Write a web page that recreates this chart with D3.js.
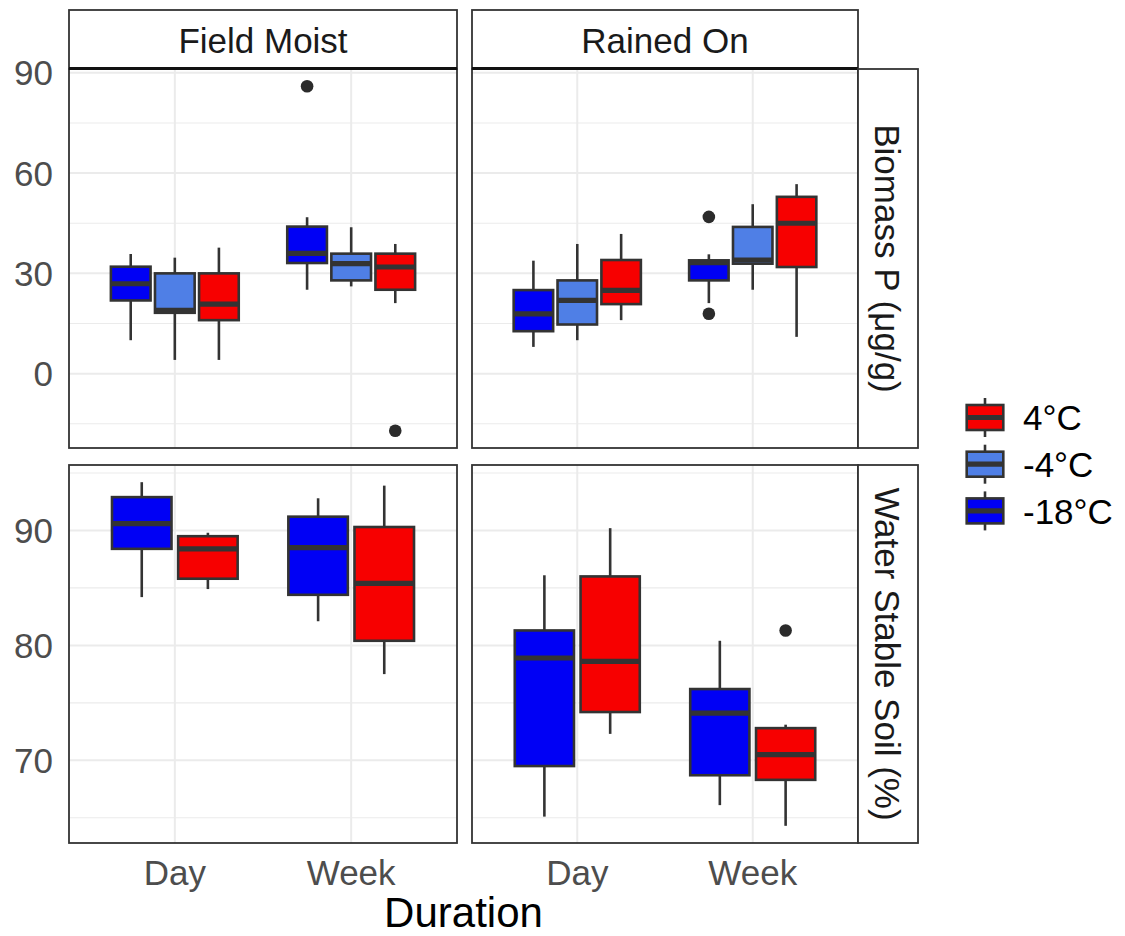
<!DOCTYPE html>
<html>
<head>
<meta charset="utf-8">
<script src="https://cdnjs.cloudflare.com/ajax/libs/d3/7.8.5/d3.min.js"></script>
<style>
  body { margin: 0; background: #fff; }
  text { font-family: "Liberation Sans", Arial, Helvetica, sans-serif; }
</style>
</head>
<body>
<div id="chart"></div>
<script>
// categories
var durations = ["Day", "Week"];
var temps = ["-18°C", "-4°C", "4°C"];
var tempColors = ["#0000F5", "#4F7FE6", "#F70000"];
var conditions = ["Field Moist", "Rained On"];
var measures = ["Biomass P (μg/g)", "Water Stable Soil (%)"];

// tick labels
var biomassTicks = [0, 30, 60, 90];
var biomassMinor = [-15, 15, 45, 75];
var soilTicks = [70, 80, 90];
var soilMinor = [65, 75, 85, 95];

// box stats: [duration, temp, ymin, lower, middle, upper, ymax]
var biomassFieldMoist = [
  ["Day", "-18°C", 10.0, 21.9, 26.9, 32.0, 35.8],
  ["Day", "-4°C", 4.1, 18.2, 18.9, 30.0, 34.7],
  ["Day", "4°C", 4.1, 16.0, 20.8, 30.0, 37.7],
  ["Week", "-18°C", 25.1, 33.1, 36.0, 44.0, 46.8],
  ["Week", "-4°C", 26.1, 27.9, 32.9, 35.9, 43.8],
  ["Week", "4°C", 21.1, 25.1, 31.9, 35.9, 38.8]
];
var biomassRainedOn = [
  ["Day", "-18°C", 8.0, 12.7, 17.9, 25.0, 33.8],
  ["Day", "-4°C", 10.0, 14.7, 21.9, 27.9, 38.8],
  ["Day", "4°C", 16.0, 20.8, 24.9, 34.0, 41.8],
  ["Week", "-18°C", 21.1, 27.9, 33.2, 33.9, 35.7],
  ["Week", "-4°C", 25.1, 32.9, 34.0, 43.9, 50.7],
  ["Week", "4°C", 11.0, 31.9, 45.0, 52.9, 56.7]
];
var soilFieldMoist = [
  ["Day", "-18°C", 84.2, 88.4, 90.6, 92.9, 94.2],
  ["Day", "4°C", 84.9, 85.8, 88.4, 89.5, 89.8],
  ["Week", "-18°C", 82.1, 84.4, 88.5, 91.2, 92.8],
  ["Week", "4°C", 77.5, 80.4, 85.4, 90.3, 93.9]
];
var soilRainedOn = [
  ["Day", "-18°C", 65.1, 69.5, 78.9, 81.3, 86.1],
  ["Day", "4°C", 72.3, 74.2, 78.6, 86.0, 90.2],
  ["Week", "-18°C", 66.1, 68.7, 74.1, 76.2, 80.4],
  ["Week", "4°C", 64.3, 68.3, 70.5, 72.8, 73.1]
];

// outliers: [duration, temp, value]
var biomassFieldMoistOut = [["Week", "-18°C", 86.0], ["Week", "4°C", -17.1]];
var biomassRainedOnOut = [["Week", "-18°C", 46.9], ["Week", "-18°C", 17.9]];
var soilFieldMoistOut = [];
var soilRainedOnOut = [["Week", "4°C", 81.3]];

var W = 1125, H = 936;
var colX = [[69, 457], [472, 858]];
var rowY = [[69, 448], [465, 843]];
var stripTop = 10;
var rStripX = [858, 918];

var panels = [
  {row: 0, col: 0, stats: biomassFieldMoist, out: biomassFieldMoistOut},
  {row: 0, col: 1, stats: biomassRainedOn, out: biomassRainedOnOut},
  {row: 1, col: 0, stats: soilFieldMoist, out: soilFieldMoistOut},
  {row: 1, col: 1, stats: soilRainedOn, out: soilRainedOnOut}
];
var rowTicks = [[biomassTicks, biomassMinor], [soilTicks, soilMinor]];

var svg = d3.select("#chart").append("svg")
  .attr("width", W).attr("height", H);

// y scales, shared per row, 5% expansion like ggplot
var yScales = [0, 1].map(function(r){
  var vals = [];
  panels.filter(function(p){ return p.row == r; }).forEach(function(p){
    p.stats.forEach(function(s){ vals.push(s[2], s[6]); });
    p.out.forEach(function(o){ vals.push(o[2]); });
  });
  var ext = d3.extent(vals);
  var pad = (ext[1] - ext[0]) * 0.05;
  return d3.scaleLinear().domain([ext[0] - pad, ext[1] + pad]).range([rowY[r][1], rowY[r][0]]);
});

var dark = "#333333";

panels.forEach(function(p){
  var x0 = colX[p.col][0], x1 = colX[p.col][1];
  var y0 = rowY[p.row][0], y1 = rowY[p.row][1];
  var y = yScales[p.row];
  var x = d3.scalePoint().domain(durations).range([x0, x1]).padding(0.6);
  var unit = x.step();
  var g = svg.append("g");

  // grid
  g.selectAll(".minor").data(rowTicks[p.row][1]).enter().append("line")
    .attr("x1", x0).attr("x2", x1).attr("y1", function(d){ return y(d); }).attr("y2", function(d){ return y(d); })
    .attr("stroke", "#EBEBEB").attr("stroke-width", 1.2);
  g.selectAll(".major").data(rowTicks[p.row][0]).enter().append("line")
    .attr("x1", x0).attr("x2", x1).attr("y1", function(d){ return y(d); }).attr("y2", function(d){ return y(d); })
    .attr("stroke", "#EBEBEB").attr("stroke-width", 2);
  g.selectAll(".vmajor").data(durations).enter().append("line")
    .attr("x1", function(d){ return x(d); }).attr("x2", function(d){ return x(d); })
    .attr("y1", y0).attr("y2", y1)
    .attr("stroke", "#EBEBEB").attr("stroke-width", 2);

  // dodge
  var present = temps.filter(function(t){ return p.stats.some(function(s){ return s[1] == t; }); });
  var slot = 0.75 / present.length;
  function cx(dur, t){
    var i = present.indexOf(t);
    return x(dur) + (i - (present.length - 1) / 2) * slot * unit;
  }
  var bw = slot * 0.9 * unit;

  p.stats.forEach(function(s){
    var c = cx(s[0], s[1]);
    var col = tempColors[temps.indexOf(s[1])];
    g.append("line").attr("x1", c).attr("x2", c).attr("y1", y(s[6])).attr("y2", y(s[5]))
      .attr("stroke", dark).attr("stroke-width", 2.6);
    g.append("line").attr("x1", c).attr("x2", c).attr("y1", y(s[3])).attr("y2", y(s[2]))
      .attr("stroke", dark).attr("stroke-width", 2.6);
    g.append("rect").attr("x", c - bw / 2).attr("y", y(s[5]))
      .attr("width", bw).attr("height", y(s[3]) - y(s[5]))
      .attr("fill", col).attr("stroke", dark).attr("stroke-width", 2.6);
    g.append("line").attr("x1", c - bw / 2).attr("x2", c + bw / 2).attr("y1", y(s[4])).attr("y2", y(s[4]))
      .attr("stroke", dark).attr("stroke-width", 5.2);
  });

  g.selectAll(".out").data(p.out).enter().append("circle")
    .attr("cx", function(d){ return cx(d[0], d[1]); })
    .attr("cy", function(d){ return y(d[2]); })
    .attr("r", 6.3).attr("fill", "#2b2b2b");

  // border
  g.append("rect").attr("x", x0).attr("y", y0).attr("width", x1 - x0).attr("height", y1 - y0)
    .attr("fill", "none").attr("stroke", dark).attr("stroke-width", 1.8);

  // x tick labels on bottom row
  if (p.row == 1) {
    g.selectAll(".xl").data(durations).enter().append("text")
      .attr("x", function(d){ return x(d); }).attr("y", 885)
      .attr("text-anchor", "middle").attr("fill", "#4D4D4D").style("font-size", "35px")
      .text(function(d){ return d; });
  }
  // y tick labels on left column
  if (p.col == 0) {
    g.selectAll(".yl").data(rowTicks[p.row][0]).enter().append("text")
      .attr("x", 53).attr("y", function(d){ return y(d); }).attr("dy", "0.36em")
      .attr("text-anchor", "end").attr("fill", "#4D4D4D").style("font-size", "35px")
      .text(function(d){ return d; });
  }
});

// top strips
conditions.forEach(function(c, i){
  svg.append("rect").attr("x", colX[i][0]).attr("y", stripTop)
    .attr("width", colX[i][1] - colX[i][0]).attr("height", rowY[0][0] - stripTop)
    .attr("fill", "#fff").attr("stroke", dark).attr("stroke-width", 1.8);
  svg.append("line").attr("x1", colX[i][0]).attr("x2", colX[i][1])
    .attr("y1", rowY[0][0] - 0.5).attr("y2", rowY[0][0] - 0.5)
    .attr("stroke", "#111").attr("stroke-width", 3);
  svg.append("text").attr("x", (colX[i][0] + colX[i][1]) / 2).attr("y", 53)
    .attr("text-anchor", "middle").attr("fill", "#1A1A1A").style("font-size", "35px")
    .text(c);
});

// right strips
measures.forEach(function(m, i){
  svg.append("rect").attr("x", rStripX[0]).attr("y", rowY[i][0])
    .attr("width", rStripX[1] - rStripX[0]).attr("height", rowY[i][1] - rowY[i][0])
    .attr("fill", "#fff").attr("stroke", dark).attr("stroke-width", 1.8);
  var cxs = (rStripX[0] + rStripX[1]) / 2, cys = (rowY[i][0] + rowY[i][1]) / 2;
  svg.append("text").attr("transform", "translate(" + cxs + "," + cys + ") rotate(90)")
    .attr("text-anchor", "middle").attr("dy", "0.36em")
    .attr("fill", "#1A1A1A").style("font-size", "35px")
    .text(m);
});

// axis title
svg.append("text").attr("x", (colX[0][0] + colX[1][1]) / 2).attr("y", 927)
  .attr("text-anchor", "middle").attr("fill", "#000").style("font-size", "42px")
  .text("Duration");

// legend (reversed order)
var legendOrder = temps.slice().reverse();
legendOrder.forEach(function(t, i){
  var cy = 417.5 + i * 46.7;
  var kx = 985;
  var col = tempColors[temps.indexOf(t)];
  var lg = svg.append("g");
  lg.append("line").attr("x1", kx).attr("x2", kx).attr("y1", cy - 19.5).attr("y2", cy + 19.5)
    .attr("stroke", dark).attr("stroke-width", 2.6);
  lg.append("rect").attr("x", kx - 18.3).attr("y", cy - 12.5).attr("width", 36.6).attr("height", 25)
    .attr("fill", col).attr("stroke", dark).attr("stroke-width", 2.6);
  lg.append("line").attr("x1", kx - 18.3).attr("x2", kx + 18.3).attr("y1", cy).attr("y2", cy)
    .attr("stroke", dark).attr("stroke-width", 5.2);
  lg.append("text").attr("x", 1023).attr("y", cy).attr("dy", "0.36em")
    .attr("fill", "#000").style("font-size", "35px").text(t);
});
</script>
</body>
</html>
